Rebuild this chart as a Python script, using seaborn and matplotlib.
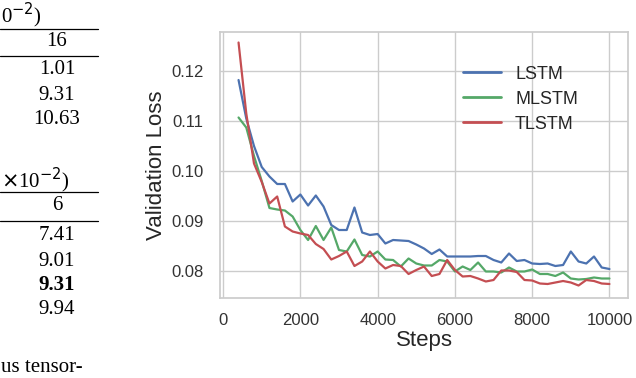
import numpy as np
import pandas as pd
import matplotlib
matplotlib.use("Agg")
import matplotlib.pyplot as plt
import seaborn as sns

# ----- data -----
steps = list(range(400, 10001, 200))

lstm = [0.1182, 0.1105, 0.1050, 0.1008, 0.0989, 0.0974, 0.0974, 0.0939, 0.0953, 0.0931,
        0.0951, 0.0929, 0.0892, 0.0882, 0.0882, 0.0927, 0.0877, 0.0872, 0.0874, 0.0855,
        0.0862, 0.0861, 0.0860, 0.0853, 0.0845, 0.0834, 0.0843, 0.0829, 0.0829, 0.0829,
        0.0829, 0.0830, 0.0830, 0.0822, 0.0817, 0.0835, 0.0820, 0.0822, 0.0815, 0.0814,
        0.0815, 0.0810, 0.0812, 0.0839, 0.0819, 0.0815, 0.0829, 0.0807, 0.0804]

mlstm = [0.1107, 0.1087, 0.1030, 0.0980, 0.0926, 0.0923, 0.0921, 0.0909, 0.0882, 0.0862,
         0.0890, 0.0862, 0.0887, 0.0842, 0.0839, 0.0863, 0.0832, 0.0829, 0.0839, 0.0823,
         0.0822, 0.0809, 0.0825, 0.0815, 0.0811, 0.0811, 0.0822, 0.0819, 0.0799, 0.0809,
         0.0802, 0.0817, 0.0799, 0.0799, 0.0797, 0.0807, 0.0799, 0.0799, 0.0803, 0.0794,
         0.0794, 0.0790, 0.0797, 0.0785, 0.0783, 0.0784, 0.0787, 0.0785, 0.0785]

tlstm = [0.1257, 0.1115, 0.1015, 0.0978, 0.0935, 0.0949, 0.0889, 0.0879, 0.0875, 0.0872,
         0.0854, 0.0844, 0.0823, 0.0830, 0.0839, 0.0810, 0.0819, 0.0839, 0.0819, 0.0805,
         0.0812, 0.0810, 0.0794, 0.0802, 0.0809, 0.0790, 0.0794, 0.0822, 0.0802, 0.0789,
         0.0790, 0.0785, 0.0779, 0.0782, 0.0801, 0.0801, 0.0798, 0.0782, 0.0781, 0.0775,
         0.0774, 0.0777, 0.0780, 0.0777, 0.0771, 0.0782, 0.0780, 0.0775, 0.0774]

models = ["LSTM", "MLSTM", "TLSTM"]
x_ticks = [0, 2000, 4000, 6000, 8000, 10000]
y_ticks = [0.08, 0.09, 0.10, 0.11, 0.12]

# table fragment on the left side of the page crop
table_top = ["16", "1.01", "9.31", "10.63"]
table_bottom = ["6", "7.41", "9.01", "9.31", "9.94"]

df = pd.DataFrame({
    "Steps": steps * 3,
    "loss": lstm + mlstm + tlstm,
    "model": [m for m in models for _ in steps],
})

sns.set_theme(style="whitegrid")
plt.rcParams["font.family"] = ["Liberation Sans", "DejaVu Sans"]

fig = plt.figure(figsize=(6.36, 3.78), dpi=100)
ax = fig.add_axes([220 / 636, 1 - 298 / 378, 408 / 636, 266 / 378])

palette = sns.color_palette("deep")
colors = {"LSTM": palette[0], "MLSTM": palette[2], "TLSTM": palette[3]}
sns.lineplot(data=df, x="Steps", y="loss", hue="model", hue_order=models,
             palette=colors, linewidth=1.6, ax=ax)

ax.set_xlim(-80, 10480)
ax.set_ylim(0.0746, 0.1278)
ax.set_xticks(x_ticks)
ax.set_yticks(y_ticks)
ax.set_yticklabels([f"{v:.2f}" for v in y_ticks])
ax.tick_params(axis="x", labelsize=12, pad=5, colors="#333333")
ax.tick_params(axis="y", labelsize=12, pad=6, colors="#333333")
ax.set_xlabel("Steps", fontsize=16, labelpad=1, color="#262626")
ax.set_ylabel("Validation Loss", fontsize=16, labelpad=3, color="#262626")
for s in ax.spines.values():
    s.set_color("#cccccc")

leg = ax.legend(loc="upper left", bbox_to_anchor=(0.555, 0.935), frameon=False,
                fontsize=13, handlelength=2.1, handletextpad=0.8, labelspacing=0.45)
for line in leg.get_lines():
    line.set_linewidth(2)

# ----- left table fragment -----
serif = ["Liberation Serif", "DejaVu Serif"]
def t(x, y, s, **kw):
    fig.text(x / 636, 1 - y / 378, s, family=serif, fontsize=15,
             va="center", color="black", **kw)

t(1, 15, r"0$^{-2}$)", ha="left")
t(57, 42, table_top[0], ha="center")
for y, s in zip([70, 95, 119], table_top[1:]):
    t(57, y, s, ha="center")
t(1, 180, r"$\times$10$^{-2}$)", ha="left")
t(57, 206, table_bottom[0], ha="center")
for y, s in zip([236, 261, 285, 309], table_bottom[1:]):
    t(57, y, s, ha="center", fontweight="bold" if y == 285 else "normal")
t(1, 368, "us tensor-", ha="left")

for y in [29, 56, 192, 221]:
    fig.add_artist(plt.Line2D([0, 98 / 636], [1 - y / 378] * 2, color="black", lw=0.9))

fig.savefig("out.png", dpi=100)
